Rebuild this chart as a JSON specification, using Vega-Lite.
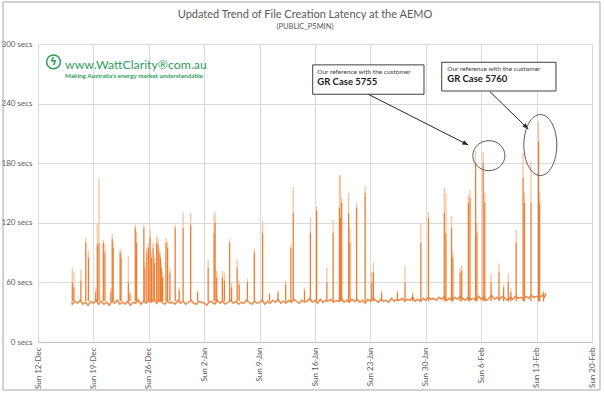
{
"$schema":"https://vega.github.io/schema/vega-lite/v6.json",
"width":554,"height":298,
"autosize":"none",
"padding":{"left":38,"top":44,"right":12,"bottom":54},
"background":"white",
"title":{"text":"Updated Trend of File Creation Latency at the AEMO","subtitle":"(PUBLIC_P5MIN)","fontSize":11,"font":"Lato","fontWeight":"normal","color":"#595959","subtitleFont":"Lato","subtitleFontSize":7.5,"subtitleColor":"#595959","subtitlePadding":3,"anchor":"middle","frame":"group","dx":-10,"offset":-29},
"config":{"font":"Lato","view":{"stroke":null},"axis":{"labelColor":"#595959","labelFontSize":8,"labelFont":"Lato","gridColor":"#D9D9D9","domain":false,"ticks":false}},
"datasets":{
"base":[
{"t":"2021-12-16T06:00","v":40},{"t":"2021-12-16T08:00","v":38},{"t":"2021-12-16T16:00","v":41},
{"t":"2021-12-17T00:00","v":39},{"t":"2021-12-17T08:00","v":42},{"t":"2021-12-17T16:00","v":38},
{"t":"2021-12-18T00:00","v":40},{"t":"2021-12-18T08:00","v":37},{"t":"2021-12-18T16:00","v":41},
{"t":"2021-12-19T00:00","v":39},{"t":"2021-12-19T08:00","v":42},{"t":"2021-12-19T16:00","v":38},
{"t":"2021-12-20T00:00","v":41},{"t":"2021-12-20T08:00","v":38},{"t":"2021-12-20T16:00","v":40},
{"t":"2021-12-21T00:00","v":37},{"t":"2021-12-21T08:00","v":41},{"t":"2021-12-21T16:00","v":39},
{"t":"2021-12-22T00:00","v":42},{"t":"2021-12-22T08:00","v":38},{"t":"2021-12-22T16:00","v":40},
{"t":"2021-12-23T00:00","v":38},{"t":"2021-12-23T08:00","v":41},{"t":"2021-12-23T16:00","v":37},
{"t":"2021-12-24T00:00","v":40},{"t":"2021-12-24T08:00","v":39},{"t":"2021-12-24T16:00","v":42},
{"t":"2021-12-25T00:00","v":38},{"t":"2021-12-25T08:00","v":41},{"t":"2021-12-25T16:00","v":39},
{"t":"2021-12-26T00:00","v":42},{"t":"2021-12-26T08:00","v":40},{"t":"2021-12-26T16:00","v":43},
{"t":"2021-12-27T00:00","v":39},{"t":"2021-12-27T08:00","v":42},{"t":"2021-12-27T16:00","v":40},
{"t":"2021-12-28T00:00","v":38},{"t":"2021-12-28T08:00","v":41},{"t":"2021-12-28T16:00","v":39},
{"t":"2021-12-29T00:00","v":40},{"t":"2021-12-29T08:00","v":38},{"t":"2021-12-29T16:00","v":42},
{"t":"2021-12-30T00:00","v":39},{"t":"2021-12-30T08:00","v":41},{"t":"2021-12-30T16:00","v":38},
{"t":"2021-12-31T00:00","v":40},{"t":"2021-12-31T08:00","v":42},{"t":"2021-12-31T16:00","v":39},
{"t":"2022-01-01T00:00","v":38},{"t":"2022-01-01T08:00","v":41},{"t":"2022-01-01T16:00","v":40},
{"t":"2022-01-02T00:00","v":39},{"t":"2022-01-02T08:00","v":37},{"t":"2022-01-02T16:00","v":41},
{"t":"2022-01-03T00:00","v":40},{"t":"2022-01-03T08:00","v":38},{"t":"2022-01-03T16:00","v":42},
{"t":"2022-01-04T00:00","v":39},{"t":"2022-01-04T08:00","v":41},{"t":"2022-01-04T16:00","v":38},
{"t":"2022-01-05T00:00","v":40},{"t":"2022-01-05T08:00","v":42},{"t":"2022-01-05T16:00","v":39},
{"t":"2022-01-06T00:00","v":41},{"t":"2022-01-06T08:00","v":38},{"t":"2022-01-06T16:00","v":40},
{"t":"2022-01-07T00:00","v":39},{"t":"2022-01-07T08:00","v":42},{"t":"2022-01-07T16:00","v":40},
{"t":"2022-01-08T00:00","v":38},{"t":"2022-01-08T08:00","v":41},{"t":"2022-01-08T16:00","v":39},
{"t":"2022-01-09T00:00","v":40},{"t":"2022-01-09T08:00","v":42},{"t":"2022-01-09T16:00","v":38},
{"t":"2022-01-10T00:00","v":41},{"t":"2022-01-10T08:00","v":39},{"t":"2022-01-10T16:00","v":42},
{"t":"2022-01-11T00:00","v":40},{"t":"2022-01-11T08:00","v":43},{"t":"2022-01-11T16:00","v":39},
{"t":"2022-01-12T00:00","v":41},{"t":"2022-01-12T08:00","v":39},{"t":"2022-01-12T16:00","v":42},
{"t":"2022-01-13T00:00","v":40},{"t":"2022-01-13T08:00","v":43},{"t":"2022-01-13T16:00","v":41},
{"t":"2022-01-14T00:00","v":39},{"t":"2022-01-14T08:00","v":42},{"t":"2022-01-14T16:00","v":40},
{"t":"2022-01-15T00:00","v":41},{"t":"2022-01-15T08:00","v":44},{"t":"2022-01-15T16:00","v":40},
{"t":"2022-01-16T00:00","v":42},{"t":"2022-01-16T08:00","v":39},{"t":"2022-01-16T16:00","v":43},
{"t":"2022-01-17T00:00","v":40},{"t":"2022-01-17T08:00","v":42},{"t":"2022-01-17T16:00","v":41},
{"t":"2022-01-18T00:00","v":43},{"t":"2022-01-18T08:00","v":40},{"t":"2022-01-18T16:00","v":42},
{"t":"2022-01-19T00:00","v":41},{"t":"2022-01-19T08:00","v":44},{"t":"2022-01-19T16:00","v":40},
{"t":"2022-01-20T00:00","v":42},{"t":"2022-01-20T08:00","v":40},{"t":"2022-01-20T16:00","v":43},
{"t":"2022-01-21T00:00","v":41},{"t":"2022-01-21T08:00","v":43},{"t":"2022-01-21T16:00","v":40},
{"t":"2022-01-22T00:00","v":42},{"t":"2022-01-22T08:00","v":39},{"t":"2022-01-22T16:00","v":43},
{"t":"2022-01-23T00:00","v":41},{"t":"2022-01-23T08:00","v":44},{"t":"2022-01-23T16:00","v":42},
{"t":"2022-01-24T00:00","v":40},{"t":"2022-01-24T08:00","v":43},{"t":"2022-01-24T16:00","v":41},
{"t":"2022-01-25T00:00","v":42},{"t":"2022-01-25T08:00","v":40},{"t":"2022-01-25T16:00","v":44},
{"t":"2022-01-26T00:00","v":41},{"t":"2022-01-26T08:00","v":43},{"t":"2022-01-26T16:00","v":42},
{"t":"2022-01-27T00:00","v":44},{"t":"2022-01-27T08:00","v":41},{"t":"2022-01-27T16:00","v":43},
{"t":"2022-01-28T00:00","v":42},{"t":"2022-01-28T08:00","v":45},{"t":"2022-01-28T16:00","v":41},
{"t":"2022-01-29T00:00","v":43},{"t":"2022-01-29T08:00","v":41},{"t":"2022-01-29T16:00","v":44},
{"t":"2022-01-30T00:00","v":42},{"t":"2022-01-30T08:00","v":45},{"t":"2022-01-30T16:00","v":43},
{"t":"2022-01-31T00:00","v":44},{"t":"2022-01-31T08:00","v":42},{"t":"2022-01-31T16:00","v":45},
{"t":"2022-02-01T00:00","v":43},{"t":"2022-02-01T08:00","v":46},{"t":"2022-02-01T16:00","v":42},
{"t":"2022-02-02T00:00","v":44},{"t":"2022-02-02T08:00","v":42},{"t":"2022-02-02T16:00","v":45},
{"t":"2022-02-03T00:00","v":43},{"t":"2022-02-03T08:00","v":46},{"t":"2022-02-03T16:00","v":44},
{"t":"2022-02-04T00:00","v":42},{"t":"2022-02-04T08:00","v":45},{"t":"2022-02-04T16:00","v":43},
{"t":"2022-02-05T00:00","v":44},{"t":"2022-02-05T08:00","v":42},{"t":"2022-02-05T16:00","v":46},
{"t":"2022-02-06T00:00","v":43},{"t":"2022-02-06T08:00","v":45},{"t":"2022-02-06T16:00","v":42},
{"t":"2022-02-07T00:00","v":44},{"t":"2022-02-07T08:00","v":47},{"t":"2022-02-07T16:00","v":43},
{"t":"2022-02-08T00:00","v":45},{"t":"2022-02-08T08:00","v":43},{"t":"2022-02-08T16:00","v":46},
{"t":"2022-02-09T00:00","v":44},{"t":"2022-02-09T08:00","v":42},{"t":"2022-02-09T16:00","v":45},
{"t":"2022-02-10T00:00","v":43},{"t":"2022-02-10T08:00","v":46},{"t":"2022-02-10T16:00","v":44},
{"t":"2022-02-11T00:00","v":45},{"t":"2022-02-11T08:00","v":43},{"t":"2022-02-11T16:00","v":46},
{"t":"2022-02-12T00:00","v":44},{"t":"2022-02-12T08:00","v":47},{"t":"2022-02-12T16:00","v":45},
{"t":"2022-02-13T00:00","v":46},{"t":"2022-02-13T08:00","v":44},{"t":"2022-02-13T16:00","v":47},
{"t":"2022-02-14T00:00","v":45},{"t":"2022-02-14T04:00","v":49}
],
"spikes":[
{"t":"2021-12-16T08:00","top":60,"peak":75},{"t":"2021-12-16T13:00","top":55,"peak":71},
{"t":"2021-12-17T10:00","top":62,"peak":73},{"t":"2021-12-18T01:00","top":100,"peak":105},
{"t":"2021-12-18T09:00","top":85,"peak":92},{"t":"2021-12-19T07:00","top":50,"peak":55},
{"t":"2021-12-19T12:00","top":98,"peak":119},{"t":"2021-12-19T17:00","top":100,"peak":165},
{"t":"2021-12-20T06:00","top":100,"peak":103},{"t":"2021-12-20T11:00","top":90,"peak":99},
{"t":"2021-12-21T05:00","top":50,"peak":54},{"t":"2021-12-21T09:00","top":104,"peak":109},
{"t":"2021-12-21T12:00","top":95,"peak":100},{"t":"2021-12-22T09:00","top":90,"peak":94},
{"t":"2021-12-22T12:00","top":85,"peak":92},{"t":"2021-12-23T10:00","top":60,"peak":87},
{"t":"2021-12-23T15:00","top":48,"peak":50},{"t":"2021-12-24T07:00","top":115,"peak":118},
{"t":"2021-12-24T11:00","top":100,"peak":111},{"t":"2021-12-25T09:00","top":115,"peak":118},
{"t":"2021-12-25T12:00","top":75,"peak":80},{"t":"2021-12-25T18:00","top":90,"peak":95},
{"t":"2021-12-25T23:00","top":95,"peak":100},{"t":"2021-12-26T04:00","top":105,"peak":114},
{"t":"2021-12-26T08:00","top":85,"peak":90},{"t":"2021-12-26T13:00","top":95,"peak":100},
{"t":"2021-12-26T17:00","top":80,"peak":85},{"t":"2021-12-27T00:00","top":100,"peak":107},
{"t":"2021-12-27T04:00","top":98,"peak":104},{"t":"2021-12-27T07:00","top":90,"peak":95},
{"t":"2021-12-27T11:00","top":85,"peak":90},{"t":"2021-12-27T14:00","top":75,"peak":80},
{"t":"2021-12-27T18:00","top":65,"peak":70},{"t":"2021-12-28T04:00","top":100,"peak":105},
{"t":"2021-12-28T09:00","top":95,"peak":101},{"t":"2021-12-28T16:00","top":70,"peak":75},
{"t":"2021-12-29T08:00","top":115,"peak":118},{"t":"2021-12-29T20:00","top":52,"peak":55},
{"t":"2021-12-30T08:00","top":115,"peak":130},{"t":"2021-12-31T07:00","top":118,"peak":130},
{"t":"2022-01-01T04:00","top":50,"peak":52},{"t":"2022-01-02T12:00","top":75,"peak":83},
{"t":"2022-01-03T06:00","top":110,"peak":128},{"t":"2022-01-03T09:00","top":120,"peak":131},
{"t":"2022-01-03T14:00","top":65,"peak":72},{"t":"2022-01-04T07:00","top":65,"peak":72},
{"t":"2022-01-04T13:00","top":62,"peak":70},{"t":"2022-01-05T05:00","top":100,"peak":104},
{"t":"2022-01-05T11:00","top":55,"peak":60},{"t":"2022-01-06T04:00","top":75,"peak":83},
{"t":"2022-01-06T10:00","top":58,"peak":62},{"t":"2022-01-07T11:00","top":60,"peak":64},
{"t":"2022-01-08T08:00","top":90,"peak":94},{"t":"2022-01-09T09:00","top":110,"peak":122},
{"t":"2022-01-10T06:00","top":48,"peak":50},{"t":"2022-01-11T08:00","top":50,"peak":52},
{"t":"2022-01-12T07:00","top":58,"peak":62},{"t":"2022-01-12T23:00","top":95,"peak":98},
{"t":"2022-01-13T06:00","top":130,"peak":156},{"t":"2022-01-14T16:00","top":52,"peak":55},
{"t":"2022-01-15T10:00","top":110,"peak":125},{"t":"2022-01-16T05:00","top":132,"peak":137},
{"t":"2022-01-17T12:00","top":60,"peak":75},{"t":"2022-01-18T07:00","top":110,"peak":123},
{"t":"2022-01-19T02:00","top":135,"peak":168},{"t":"2022-01-19T05:00","top":125,"peak":168},
{"t":"2022-01-19T09:00","top":140,"peak":145},{"t":"2022-01-20T06:00","top":130,"peak":150},
{"t":"2022-01-20T10:00","top":100,"peak":115},{"t":"2022-01-21T06:00","top":135,"peak":140},
{"t":"2022-01-22T08:00","top":150,"peak":157},{"t":"2022-01-23T04:00","top":60,"peak":71},
{"t":"2022-01-23T09:00","top":70,"peak":80},{"t":"2022-01-24T10:00","top":50,"peak":52},
{"t":"2022-01-26T10:00","top":50,"peak":52},{"t":"2022-01-27T09:00","top":60,"peak":76},
{"t":"2022-01-28T08:00","top":48,"peak":50},{"t":"2022-01-29T09:00","top":100,"peak":120},
{"t":"2022-01-30T08:00","top":125,"peak":131},{"t":"2022-02-01T08:00","top":130,"peak":155},
{"t":"2022-02-01T13:00","top":110,"peak":150},{"t":"2022-02-02T06:00","top":115,"peak":127},
{"t":"2022-02-02T10:00","top":85,"peak":90},{"t":"2022-02-03T08:00","top":70,"peak":75},
{"t":"2022-02-03T13:00","top":72,"peak":77},{"t":"2022-02-04T09:00","top":140,"peak":148},
{"t":"2022-02-04T14:00","top":145,"peak":153},{"t":"2022-02-05T07:00","top":180,"peak":193},
{"t":"2022-02-05T11:00","top":110,"peak":120},{"t":"2022-02-06T06:00","top":180,"peak":191},
{"t":"2022-02-06T11:00","top":140,"peak":150},{"t":"2022-02-07T06:00","top":60,"peak":69},
{"t":"2022-02-08T06:00","top":70,"peak":79},{"t":"2022-02-08T20:00","top":55,"peak":58},
{"t":"2022-02-09T10:00","top":60,"peak":69},{"t":"2022-02-09T18:00","top":50,"peak":54},
{"t":"2022-02-10T10:00","top":100,"peak":113},{"t":"2022-02-11T07:00","top":165,"peak":190},
{"t":"2022-02-11T11:00","top":140,"peak":150},{"t":"2022-02-12T07:00","top":140,"peak":182},
{"t":"2022-02-13T06:00","top":202,"peak":222},{"t":"2022-02-13T09:00","top":140,"peak":150},
{"t":"2022-02-13T21:00","top":50,"peak":52}
]
},
"layer":[
{"data":{"values":[{"t":"2021-12-07T14:00","t2":"2022-02-21T00:15","v":342.3,"v2":-48.3}]},
 "mark":{"type":"rect","fill":null,"fillOpacity":0,"stroke":"#A6A6A6","strokeWidth":1},
 "encoding":{
  "x":{"field":"t","type":"temporal","scale":{"domain":[{"year":2021,"month":12,"date":12},{"year":2022,"month":2,"date":20}]},
       "axis":{"title":null,"format":"%a %-d-%b","labelAngle":270,"tickCount":{"interval":"week","step":1},"domain":true,"domainColor":"#BFBFBF","labelPadding":5,"labelOverlap":false,"labelFlush":false,"gridColor":"#D9D9D9"}},
  "x2":{"field":"t2"},
  "y":{"field":"v","type":"quantitative","scale":{"domain":[0,300],"nice":false},
       "axis":{"title":null,"values":[0,60,120,180,240,300],"labelExpr":"datum.value + ' secs'","labelPadding":6}},
  "y2":{"field":"v2"}}},
{"data":{"name":"base"},"mark":{"type":"line","color":"#F08A4B","strokeWidth":1.5},
 "encoding":{"x":{"field":"t","type":"temporal"},"y":{"field":"v","type":"quantitative"}}},
{"data":{"name":"spikes"},"mark":{"type":"rule","color":"#F7C4A0","strokeWidth":1.3},
 "encoding":{"x":{"field":"t","type":"temporal"},"y":{"field":"peak","type":"quantitative"},"y2":{"field":"top"}}},
{"data":{"name":"spikes"},"mark":{"type":"rule","color":"#ED7D31","strokeWidth":1.3},
 "encoding":{"x":{"field":"t","type":"temporal"},"y":{"field":"top","type":"quantitative"},"y2":{"datum":41}}},
{"data":{"values":[{"t":"2022-01-15T17:00","t2":"2022-01-29T18:30","v":279,"v2":249.4},{"t":"2022-02-01T00:15","t2":"2022-02-15T10:45","v":281.6,"v2":252.7}]},
 "mark":{"type":"rect","fill":"white","stroke":"#404040","strokeWidth":1},
 "encoding":{"x":{"field":"t","type":"temporal"},"x2":{"field":"t2"},"y":{"field":"v","type":"quantitative"},"y2":{"field":"v2"}}},
{"data":{"values":[{"t":"2022-01-16T07:00","v":271.5,"label":"Our reference with the customer"},{"t":"2022-02-01T17:00","v":274.5,"label":"Our reference with the customer"}]},
 "mark":{"type":"text","align":"left","baseline":"middle","fontSize":6.5,"color":"#404040","font":"Lato"},
 "encoding":{"x":{"field":"t","type":"temporal"},"y":{"field":"v","type":"quantitative"},"text":{"field":"label"}}},
{"data":{"values":[{"t":"2022-01-16T07:00","v":261.4,"label":"GR Case 5755"},{"t":"2022-02-01T17:00","v":264.8,"label":"GR Case 5760"}]},
 "mark":{"type":"text","align":"left","baseline":"middle","fontSize":9.5,"fontWeight":"bold","color":"#1a1a1a","font":"Lato"},
 "encoding":{"x":{"field":"t","type":"temporal"},"y":{"field":"v","type":"quantitative"},"text":{"field":"label"}}},
{"data":{"values":[{"t":"2022-01-22T17:30","v":249.4,"t2":"2022-02-04T09:00","v2":198.3},{"t":"2022-02-07T02:40","v":252,"t2":"2022-02-11T22:50","v2":214.4}]},
 "mark":{"type":"rule","color":"#262626","strokeWidth":1},
 "encoding":{"x":{"field":"t","type":"temporal"},"x2":{"field":"t2"},"y":{"field":"v","type":"quantitative"},"y2":{"field":"v2"}}},
{"data":{"values":[{"t":"2022-02-04T09:00","v":198.3}]},
 "mark":{"type":"point","shape":"M0,0L-0.8,2L0.8,2Z","filled":true,"color":"#262626","size":36,"angle":117,"opacity":1},
 "encoding":{"x":{"field":"t","type":"temporal"},"y":{"field":"v","type":"quantitative"}}},
{"data":{"values":[{"t":"2022-02-11T22:50","v":214.4}]},
 "mark":{"type":"point","shape":"M0,0L-0.8,2L0.8,2Z","filled":true,"color":"#262626","size":36,"angle":134,"opacity":1},
 "encoding":{"x":{"field":"t","type":"temporal"},"y":{"field":"v","type":"quantitative"}}},
{"data":{"values":[{"t":"2022-02-06T23:15","v":187.6}]},
 "mark":{"type":"point","shape":"M-1.07,0A1.07,1,0,1,1,1.07,0A1.07,1,0,1,1,-1.07,0Z","filled":false,"stroke":"#595959","strokeWidth":1,"size":900,"opacity":1},
 "encoding":{"x":{"field":"t","type":"temporal"},"y":{"field":"v","type":"quantitative"}}},
{"data":{"values":[{"t":"2022-02-13T11:15","v":198.3}]},
 "mark":{"type":"point","shape":"M-0.54,0A0.54,1,0,1,1,0.54,0A0.54,1,0,1,1,-0.54,0Z","filled":false,"stroke":"#595959","strokeWidth":1,"size":3721,"opacity":1},
 "encoding":{"x":{"field":"t","type":"temporal"},"y":{"field":"v","type":"quantitative"}}},
{"data":{"values":[{"t":"2021-12-15T10:00","v":278.5,"label":"www.WattClarity®com.au"}]},
 "mark":{"type":"text","align":"left","baseline":"middle","fontSize":12.3,"color":"#2E9E5B","font":"Lato"},
 "encoding":{"x":{"field":"t","type":"temporal"},"y":{"field":"v","type":"quantitative"},"text":{"field":"label"}}},
{"data":{"values":[{"t":"2021-12-15T10:00","v":267.8,"label":"Making Australia's energy market understandable"}]},
 "mark":{"type":"text","align":"left","baseline":"middle","fontSize":6.3,"fontWeight":"bold","color":"#2E9E5B","font":"Lato"},
 "encoding":{"x":{"field":"t","type":"temporal"},"y":{"field":"v","type":"quantitative"},"text":{"field":"label"}}},
{"data":{"values":[{"t":"2021-12-13T23:00","v":282}]},
 "mark":{"type":"point","shape":"circle","filled":false,"stroke":"#2E9E5B","strokeWidth":1.5,"size":190,"opacity":1},
 "encoding":{"x":{"field":"t","type":"temporal"},"y":{"field":"v","type":"quantitative"}}},
{"data":{"values":[{"t":"2021-12-13T23:00","v":282,"label":"ϟ"}]},
 "mark":{"type":"text","align":"center","baseline":"middle","fontSize":11,"fontWeight":"bold","color":"#2E9E5B","font":"DejaVu Sans"},
 "encoding":{"x":{"field":"t","type":"temporal"},"y":{"field":"v","type":"quantitative"},"text":{"field":"label"}}}
]
}
